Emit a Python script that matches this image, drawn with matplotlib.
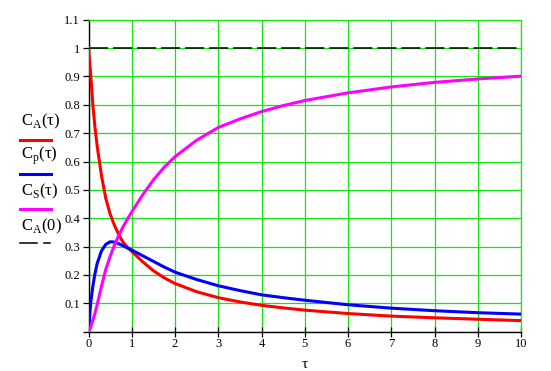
import matplotlib
matplotlib.use("Agg")
import matplotlib.pyplot as plt
from matplotlib.lines import Line2D

plt.rcParams['font.family'] = ['Liberation Serif', 'DejaVu Serif']
plt.rcParams['mathtext.fontset'] = 'custom'
plt.rcParams['mathtext.rm'] = 'Liberation Serif'
plt.rcParams['lines.scale_dashes'] = False

# values
tau = [0, 0.05, 0.1, 0.15, 0.2, 0.3, 0.4, 0.5, 0.6, 0.7, 0.8, 0.9, 1.0,
       1.25, 1.5, 1.75, 2, 2.5, 3, 3.5, 4, 4.5, 5, 6, 7, 8, 9, 10]
c_a = [1.0, 0.91, 0.80, 0.72, 0.655, 0.55, 0.47, 0.415, 0.375, 0.342, 0.315,
       0.298, 0.283, 0.247, 0.215, 0.19, 0.17, 0.141, 0.12, 0.105, 0.093,
       0.084, 0.076, 0.064, 0.055, 0.049, 0.044, 0.039]
c_p = [0.0, 0.10, 0.16, 0.205, 0.24, 0.285, 0.308, 0.317, 0.316, 0.31, 0.303,
       0.295, 0.288, 0.268, 0.248, 0.228, 0.21, 0.184, 0.162, 0.145, 0.13,
       0.12, 0.111, 0.095, 0.083, 0.074, 0.067, 0.062]
c_s = [0.0, 0.015, 0.04, 0.065, 0.095, 0.16, 0.22, 0.265, 0.305, 0.34, 0.37,
       0.397, 0.422, 0.482, 0.535, 0.58, 0.617, 0.675, 0.72, 0.75, 0.776,
       0.797, 0.815, 0.842, 0.863, 0.879, 0.891, 0.901]
c_a0 = 1.0

x_ticks = list(range(0, 11))
y_ticks = [0, 0.1, 0.2, 0.3, 0.4, 0.5, 0.6, 0.7, 0.8, 0.9, 1.0, 1.1]
y_labels = ['', '0.1', '0.2', '0.3', '0.4', '0.5', '0.6', '0.7', '0.8', '0.9', '1', '1.1']

green = '#14e614'
lw = 2.2

fig = plt.figure(figsize=(5.51, 3.71), dpi=100)
ax = fig.add_axes([88.5 / 551, 1 - 331.7 / 371, (521 - 88.5) / 551, (331.7 - 19.7) / 371])

ax.plot([0, 10], [c_a0, c_a0], color='black', lw=1.1, dashes=(13.7, 3.6), zorder=3)
ax.plot(tau, c_a, color='#ff0000', lw=lw, zorder=4)
ax.plot(tau, c_p, color='#0000ff', lw=lw, zorder=4)
ax.plot(tau, c_s, color='#ff00ff', lw=lw, zorder=4)

ax.set_xlim(0, 10)
ax.set_ylim(0, 1.1)
ax.set_xticks(x_ticks)
ax.set_yticks(y_ticks)
ax.set_yticklabels(y_labels)
ax.grid(True, color=green, lw=0.9, zorder=1)
ax.set_axisbelow(True)

for s in ['top', 'right']:
    ax.spines[s].set_color(green)
    ax.spines[s].set_linewidth(0.9)
for s in ['left', 'bottom']:
    ax.spines[s].set_color('black')
    ax.spines[s].set_linewidth(1.0)

ax.tick_params(axis='x', direction='inout', length=7, width=0.9, labelsize=9, pad=1)
ax.tick_params(axis='y', direction='out', length=4, width=0.9, labelsize=9, pad=2)
ax.set_xlabel('τ', fontsize=11, labelpad=6)

# left-hand legend, Mathcad style
labels = [r'C$_{\mathrm{A}}$(τ)', r'C$_{\mathrm{p}}$(τ)', r'C$_{\mathrm{S}}$(τ)', r'C$_{\mathrm{A}}$(0)']
colors = ['#ff0000', '#0000ff', '#ff00ff', 'black']
for i, (lab, col) in enumerate(zip(labels, colors)):
    ty = 1 - (121 + 35 * i) / 371
    fig.text(21 / 551, ty, lab, fontsize=12, va='center', ha='left')
    ly = 1 - (139.5 + 34.5 * i) / 371
    if col == 'black':
        fig.add_artist(Line2D([20 / 551, 37 / 551], [ly, ly], color=col, lw=1.1))
        fig.add_artist(Line2D([44 / 551, 50 / 551], [ly, ly], color=col, lw=1.1))
    else:
        fig.add_artist(Line2D([20 / 551, 51 / 551], [ly, ly], color=col, lw=lw))

fig.savefig('out.png', dpi=100)
